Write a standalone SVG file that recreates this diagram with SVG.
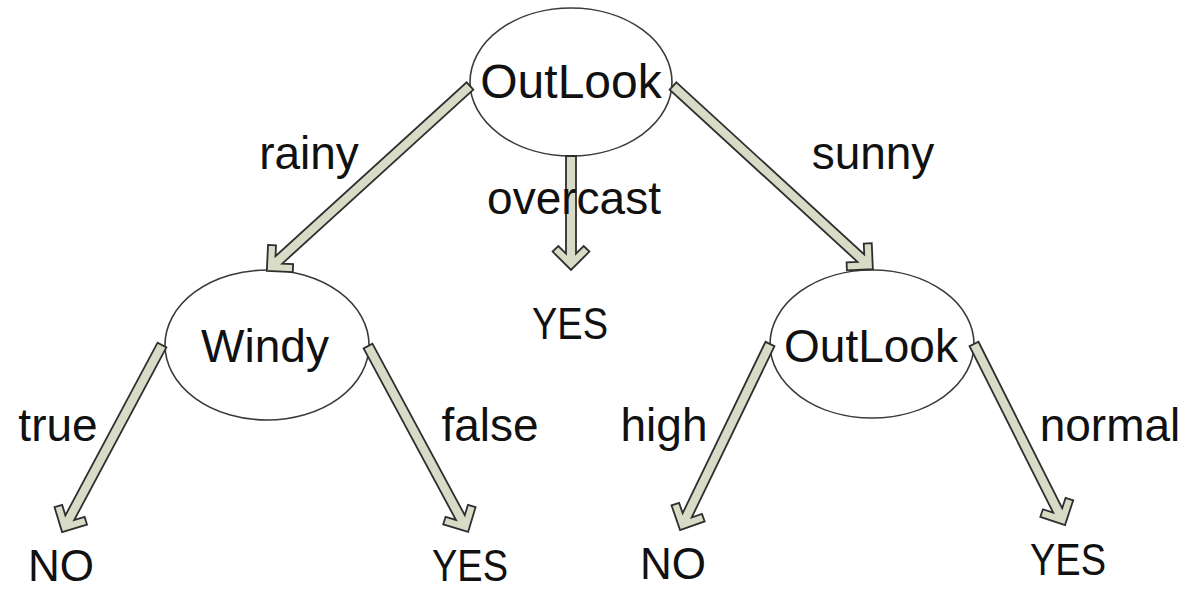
<svg xmlns="http://www.w3.org/2000/svg" width="1191" height="592" viewBox="0 0 1191 592">
  <style>
    .node { fill: #ffffff; stroke: #3a3a3a; stroke-width: 1.6; }
    .arrow { fill: #d8dbc6; stroke: #2e2e2e; stroke-width: 1.8; stroke-linejoin: miter; }
    text { font-family: "Liberation Sans", Arial, sans-serif; fill: #111111; text-anchor: middle; }
    .big { font-size: 48px; }
    .lbl { font-size: 46px; }
    .leaf { font-size: 44px; }
  </style>
  <rect width="1191" height="592" fill="#ffffff"/>

  <g id="node-root">
    <ellipse class="node" cx="571" cy="82" rx="101" ry="74"/>
    <text class="big" x="571" y="98">OutLook</text>
  </g>
  <g id="node-windy">
    <ellipse class="node" cx="267" cy="345" rx="102" ry="75"/>
    <text class="lbl" x="265" y="362">Windy</text>
  </g>
  <g id="node-outlook2">
    <ellipse class="node" cx="872" cy="344" rx="102" ry="74"/>
    <text class="lbl" x="871" y="362">OutLook</text>
  </g>
  <g id="leaf-yes-overcast">
    <text class="leaf" x="570" y="339" textLength="76" lengthAdjust="spacingAndGlyphs">YES</text>
  </g>
  <g id="leaf-no-true">
    <text class="leaf" x="61" y="581">NO</text>
  </g>
  <g id="leaf-yes-false">
    <text class="leaf" x="470" y="581" textLength="76" lengthAdjust="spacingAndGlyphs">YES</text>
  </g>
  <g id="leaf-no-high">
    <text class="leaf" x="673" y="579">NO</text>
  </g>
  <g id="leaf-yes-normal">
    <text class="leaf" x="1068" y="575" textLength="76" lengthAdjust="spacingAndGlyphs">YES</text>
  </g>

  <!-- block arrows: shaft plus chevron head, drawn along +x then placed -->
  <g id="connectors">
    <polygon class="arrow" transform="translate(470,86) rotate(137.7)" points="0,-5 258.4,-5 250.7,-12.7 256.3,-18.4 274.7,0 256.3,18.4 250.7,12.7 258.4,5 0,5"/>
    <polygon class="arrow" transform="translate(571,156) rotate(90)" points="0,-5 97.7,-5 90,-12.7 95.6,-18.4 114,0 95.6,18.4 90,12.7 97.7,5 0,5"/>
    <polygon class="arrow" transform="translate(673,86) rotate(42.5)" points="0,-5 254.8,-5 247.1,-12.7 252.7,-18.4 271.1,0 252.7,18.4 247.1,12.7 254.8,5 0,5"/>
    <polygon class="arrow" transform="translate(162,345) rotate(118.1)" points="0,-5 195.8,-5 188.1,-12.7 193.7,-18.4 212.1,0 193.7,18.4 188.1,12.7 195.8,5 0,5"/>
    <polygon class="arrow" transform="translate(368,346) rotate(61.7)" points="0,-5 194.9,-5 187.2,-12.7 192.8,-18.4 211.2,0 192.8,18.4 187.2,12.7 194.9,5 0,5"/>
    <polygon class="arrow" transform="translate(770,344) rotate(115.8)" points="0,-5 190.3,-5 182.6,-12.7 188.2,-18.4 206.6,0 188.2,18.4 182.6,12.7 190.3,5 0,5"/>
    <polygon class="arrow" transform="translate(974,344) rotate(63.3)" points="0,-5 186.3,-5 178.6,-12.7 184.2,-18.4 202.6,0 184.2,18.4 178.6,12.7 186.3,5 0,5"/>
  </g>

  <g id="edge-labels">
    <text class="lbl" x="309" y="169">rainy</text>
    <text class="lbl" x="574" y="214">overcast</text>
    <text class="lbl" x="873" y="169">sunny</text>
    <text class="lbl" x="58" y="441">true</text>
    <text class="lbl" x="490" y="441">false</text>
    <text class="lbl" x="664" y="441">high</text>
    <text class="lbl" x="1110" y="441">normal</text>
  </g>
</svg>
